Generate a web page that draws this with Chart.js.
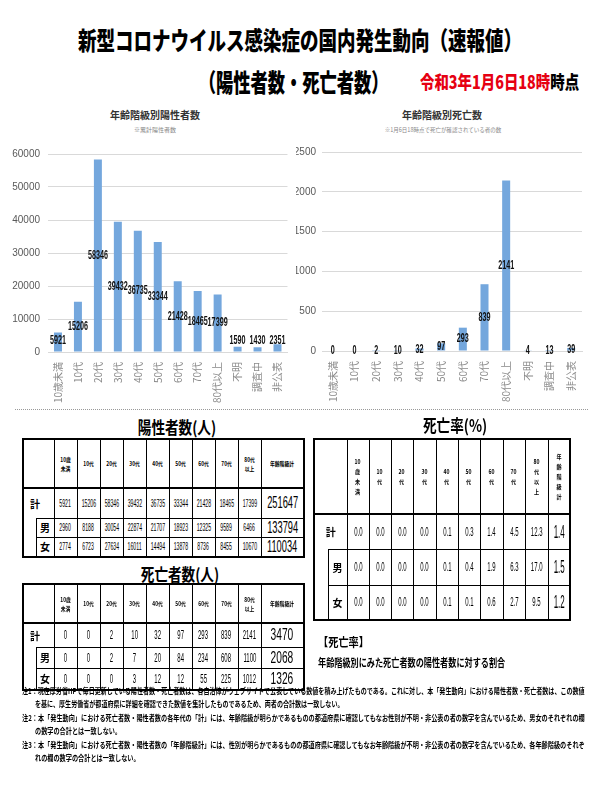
<!DOCTYPE html>
<html lang="ja">
<head>
<meta charset="utf-8">
<script src="https://cdn.jsdelivr.net/npm/chart.js@4.4.0/dist/chart.umd.min.js"></script>
<style>
  body { margin: 0; width: 600px; height: 800px; background: #fff; position: relative; overflow: hidden;
         font-family: "Noto Sans CJK JP", sans-serif; color: #000; }
  .abs { position: absolute; white-space: nowrap; }
  .sq { display: inline-block; }
  canvas { position: absolute; }
  table { position: absolute; border-collapse: collapse; table-layout: fixed; border: 2px solid #000; }
  td, th { border: 1px solid #000; padding: 0; text-align: center; vertical-align: middle; white-space: nowrap; overflow: visible; }
  tr.hd th { border-bottom: 2px solid #000; font-weight: bold; }
  td.indent { border-top: hidden; }
  td.lab { font-weight: bold; }
  .c { display: flex; justify-content: center; align-items: center; }
  .c span { display: block; white-space: nowrap; font-family: "Liberation Sans", sans-serif; }
  .notes div { position: absolute; left: 0; font-size: 8px; font-weight: bold; line-height: 12px; transform-origin: left center; }
</style>
</head>
<body>

<div class="abs" style="left:0;top:22px;width:600px;text-align:center;font-size:25px;line-height:34px;font-weight:900;">
  <span class="sq" style="transform:scaleX(0.74)">新型コロナウイルス感染症の国内発生動向（速報値）</span>
</div>
<div class="abs" style="left:0;top:64px;width:588px;text-align:center;font-size:25px;line-height:34px;font-weight:900;">
  <span class="sq" style="transform:scaleX(0.69)">（陽性者数・死亡者数）</span>
</div>
<div class="abs" style="left:420px;top:69px;font-size:18px;line-height:24px;font-weight:900;transform:scaleX(0.8);transform-origin:left center;">
  <span style="color:#e60012">令和3年1月6日18時</span>時点
</div>

<div class="abs" style="left:55px;top:108px;width:200px;text-align:center;font-size:10px;line-height:14px;font-weight:bold;color:#333;">年齢階級別陽性者数</div>
<div class="abs" style="left:55px;top:126px;width:200px;text-align:center;font-size:6px;line-height:8px;color:#888;">※累計陽性者数</div>
<div class="abs" style="left:342px;top:108px;width:200px;text-align:center;font-size:10px;line-height:14px;font-weight:bold;color:#333;">年齢階級別死亡数</div>
<div class="abs" style="left:343px;top:126px;width:200px;text-align:center;font-size:5.5px;line-height:8px;color:#888;">※1月6日18時点で死亡が確認されている者の数</div>

<canvas id="posChart" width="300" height="270" style="left:0;top:140px;"></canvas>
<canvas id="deathChart" width="304" height="270" style="left:296px;top:140px;"></canvas>

<div class="abs" style="left:15px;top:409px;width:573px;border-top:1px dotted #999;"></div>

<div class="abs" style="left:77px;top:416px;width:200px;text-align:center;font-size:17px;line-height:22px;font-weight:bold;">
  <span class="sq" style="transform:scaleX(0.8)">陽性者数(人)</span>
</div>
<div class="abs" style="left:355px;top:414px;width:200px;text-align:center;font-size:17px;line-height:22px;font-weight:bold;">
  <span class="sq" style="transform:scaleX(0.8)">死亡率(%)</span>
</div>
<div class="abs" style="left:80px;top:563px;width:200px;text-align:center;font-size:17px;line-height:22px;font-weight:bold;">
  <span class="sq" style="transform:scaleX(0.8)">死亡者数(人)</span>
</div>

<table id="posTable" style="left:22px;top:438px;"></table>
<table id="rateTable" style="left:313px;top:438px;"></table>
<table id="deathTable" style="left:22px;top:583px;"></table>

<div class="abs" style="left:318px;top:634px;font-size:12px;line-height:16px;font-weight:bold;transform:scaleX(0.85);transform-origin:left center;">【死亡率】</div>
<div class="abs" style="left:318px;top:655px;font-size:11px;line-height:15px;font-weight:bold;transform:scaleX(0.74);transform-origin:left center;">年齢階級別にみた死亡者数の陽性者数に対する割合</div>

<div class="notes abs" style="left:22px;top:685px;">
  <div class="first" style="top:0px;">注1：現在厚労省HPで毎日更新している陽性者数・死亡者数は、各自治体がウェブサイトで公表している数値を積み上げたものである。これに対し、本「発生動向」における陽性者数・死亡者数は、この数値</div>
  <div class="cont" style="top:13px;left:13px;">を基に、厚生労働省が都道府県に詳細を確認できた数値を集計したものであるため、両者の合計数は一致しない。</div>
  <div class="first" style="top:27px;">注2：本「発生動向」における死亡者数・陽性者数の各年代の「計」には、年齢階級が明らかであるものの都道府県に確認してもなお性別が不明・非公表の者の数字を含んでいるため、男女のそれぞれの欄</div>
  <div class="cont" style="top:40px;left:13px;">の数字の合計とは一致しない。</div>
  <div class="first" style="top:54px;">注3：本「発生動向」における死亡者数・陽性者数の「年齢階級計」には、性別が明らかであるものの都道府県に確認してもなお年齢階級が不明・非公表の者の数字を含んでいるため、各年齢階級のそれぞ</div>
  <div class="cont" style="top:67px;left:13px;">れの欄の数字の合計とは一致しない。</div>
</div>

<script>
// chart categories and values
const ageGroups = ['10歳未満', '10代', '20代', '30代', '40代', '50代', '60代', '70代', '80代以上', '不明', '調査中', '非公表'];
const positiveCounts = [5921, 15206, 58346, 39432, 36735, 33344, 21428, 18465, 17399, 1590, 1430, 2351];
const deathCounts = [0, 0, 2, 10, 32, 97, 293, 839, 2141, 4, 13, 39];
const positiveAxis = [0, 60000, 10000];   // min, max, step
const deathAxis = [0, 2500, 500];

// table values
const tableAges = ['10歳未満', '10代', '20代', '30代', '40代', '50代', '60代', '70代', '80代以上'];
const rowLabels = ['計', '男', '女'];
const totalLabel = '年齢階級計';
const posTotal = [5921, 15206, 58346, 39432, 36735, 33344, 21428, 18465, 17399];
const posMale = [2960, 8188, 30054, 22874, 21707, 18923, 12325, 9589, 6466];
const posFemale = [2774, 6723, 27634, 16011, 14494, 13878, 8736, 8455, 10670];
const posSums = [251647, 133794, 110034];
const deathTotal = [0, 0, 2, 10, 32, 97, 293, 839, 2141];
const deathMale = [0, 0, 2, 7, 20, 84, 234, 608, 1100];
const deathFemale = [0, 0, 0, 3, 12, 12, 55, 225, 1012];
const deathSums = [3470, 2068, 1326];
const rateTotal = ['0.0', '0.0', '0.0', '0.0', '0.1', '0.3', '1.4', '4.5', '12.3'];
const rateMale = ['0.0', '0.0', '0.0', '0.0', '0.1', '0.4', '1.9', '6.3', '17.0'];
const rateFemale = ['0.0', '0.0', '0.0', '0.0', '0.1', '0.1', '0.6', '2.7', '9.5'];
const rateSums = ['1.4', '1.5', '1.2'];

const barColor = '#74a7dd';
const gridColor = '#d9d9d9';

// value labels in the middle of each bar
const barLabels = {
  id: 'barLabels',
  afterDatasetsDraw(chart, args, opts) {
    const ctx = chart.ctx;
    const meta = chart.getDatasetMeta(0);
    const vals = chart.data.datasets[0].data;
    ctx.save();
    ctx.font = 'bold 12px "Liberation Sans", sans-serif';
    ctx.fillStyle = '#111';
    ctx.textAlign = 'center';
    ctx.textBaseline = 'middle';
    meta.data.forEach((bar, i) => {
      let y = (bar.y + bar.base) / 2;
      y = Math.min(y, bar.base - opts.minLift);
      ctx.save();
      ctx.translate(bar.x, y);
      ctx.scale(0.6, 1);
      ctx.fillText(String(vals[i]), 0, 0);
      ctx.restore();
    });
    ctx.restore();
  }
};

function barChart(id, values, axis, cfg) {
  return new Chart(document.getElementById(id), {
    type: 'bar',
    data: {
      labels: ageGroups,
      datasets: [{ data: values, backgroundColor: barColor, barPercentage: cfg.barPct, categoryPercentage: 1 }]
    },
    options: {
      responsive: false,
      animation: false,
      layout: { padding: { top: 11, right: cfg.padRight, left: 0, bottom: 0 } },
      plugins: { legend: { display: false }, tooltip: { enabled: false }, barLabels: { minLift: cfg.minLift } },
      scales: {
        x: {
          grid: { display: false, drawTicks: false },
          border: { color: gridColor },
          ticks: { minRotation: 90, maxRotation: 90, autoSkip: false, padding: 10, color: '#8a8a8a',
                   font: { size: 10, family: '"Noto Sans CJK JP", sans-serif' } },
          afterFit: s => { s.height = cfg.xH; }
        },
        y: {
          min: axis[0], max: axis[1],
          grid: { color: gridColor, drawTicks: false },
          border: { display: false },
          ticks: { stepSize: axis[2], padding: cfg.yPad, color: '#595959', callback: v => String(v),
                   font: { size: 10, family: '"Liberation Sans Narrow", "Liberation Sans", sans-serif' } },
          afterFit: s => { s.width = cfg.yW; }
        }
      }
    },
    plugins: [barLabels]
  });
}

barChart('posChart', positiveCounts, positiveAxis, { barPct: 0.4, padRight: 12, xH: 58, yW: 48, yPad: 8, minLift: 11 });
barChart('deathChart', deathCounts, deathAxis, { barPct: 0.37, padRight: 18, xH: 59, yW: 26, yPad: 6, minLift: 0 });

// tables
const hHead = s => s.length > 3 ? s.slice(0, 3) + '<br>' + s.slice(3) : s;
const vHead = s => s.match(/\d+|./g).join('<br>');

function buildTable(id, heads, rows, sums, cfg) {
  const el = document.getElementById(id);
  el.style.width = cfg.widths.reduce((a, b) => a + b, 0) + 'px';
  let h = '<colgroup>' + cfg.widths.map(w => `<col style="width:${w}px">`).join('') + '</colgroup>';
  h += `<tr class="hd" style="height:${cfg.heights[0]}px"><th colspan="2"></th>` +
       heads.map(x => `<th style="${cfg.headStyle}"><span class="sq" style="transform:scaleX(${cfg.headScale})">${x}</span></th>`).join('') + '</tr>';
  rows.forEach((vals, i) => {
    h += `<tr style="height:${cfg.heights[i + 1]}px">`;
    if (i === 0) {
      h += `<td colspan="2" class="lab" style="text-align:${cfg.keAlign};padding-left:${cfg.kePad}px;font-size:10px">${rowLabels[0]}</td>`;
    } else {
      if (i === 1) h += '<td rowspan="2" class="indent"></td>';
      h += `<td class="lab" style="font-size:10px">${rowLabels[i]}</td>`;
    }
    h += vals.map(v => `<td><div class="c"><span style="font-size:${cfg.numSize}px;transform:scaleX(${cfg.numScale})">${v}</span></div></td>`).join('');
    h += `<td><div class="c"><span style="font-size:${cfg.bigSize}px;transform:scaleX(${cfg.bigScale})">${sums[i]}</span></div></td></tr>`;
  });
  el.innerHTML = h;
}

const wideCols = [13, 18, 23, 23, 23, 23, 23, 23, 23, 23, 23, 43];
buildTable('posTable', tableAges.map(hHead).concat(totalLabel), [posTotal, posMale, posFemale], posSums, {
  widths: wideCols, heights: [49, 30, 19, 19], headStyle: 'font-size:6px;line-height:9px;', headScale: 0.8,
  keAlign: 'left', kePad: 6, numSize: 10, numScale: 0.52, bigSize: 16, bigScale: 0.58
});
buildTable('deathTable', tableAges.map(hHead).concat(totalLabel), [deathTotal, deathMale, deathFemale], deathSums, {
  widths: wideCols, heights: [39, 24, 18, 19], headStyle: 'font-size:6px;line-height:9px;', headScale: 0.8,
  keAlign: 'left', kePad: 6, numSize: 12, numScale: 0.5, bigSize: 17, bigScale: 0.6
});
buildTable('rateTable', tableAges.map(vHead).concat(vHead(totalLabel)), [rateTotal, rateMale, rateFemale], rateSums, {
  widths: [14, 19, 22, 22, 22, 23, 22, 22, 23, 22, 23, 22], heights: [75, 35, 36, 35],
  headStyle: 'font-size:6px;line-height:10px;', headScale: 0.85,
  keAlign: 'center', kePad: 0, numSize: 12, numScale: 0.5, bigSize: 19, bigScale: 0.42
});

// squeeze each note so its first line spans the page width
document.querySelectorAll('.notes .first').forEach(el => {
  const k = 563 / el.scrollWidth;
  el.style.transform = `scaleX(${k})`;
  el.nextElementSibling.style.transform = `scaleX(${k})`;
});
</script>
</body>
</html>
